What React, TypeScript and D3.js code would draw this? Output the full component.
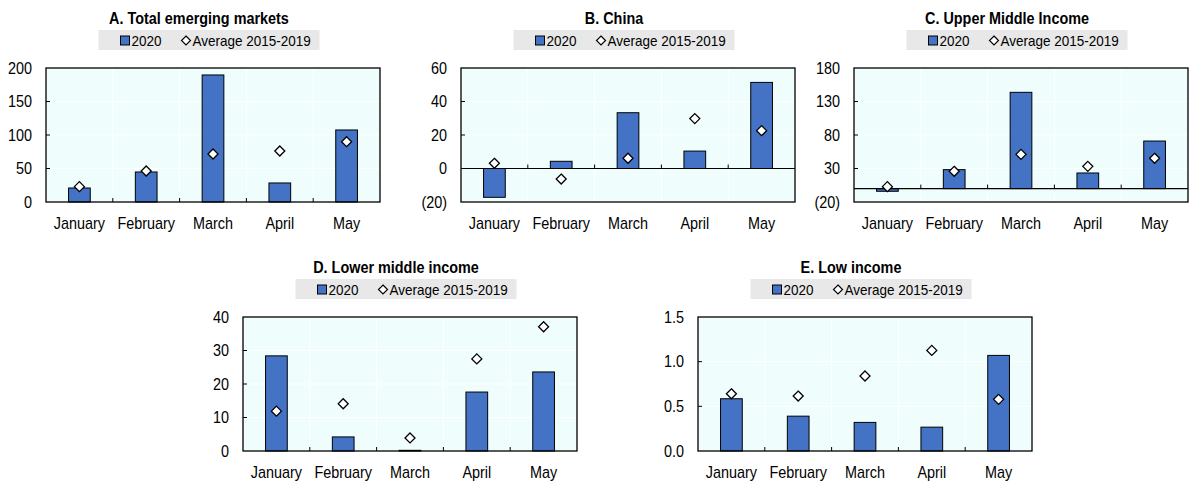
import * as d3 from 'd3';
import { useEffect } from 'react';
import type { ReactNode } from 'react';

const MONTHS = ['January', 'February', 'March', 'April', 'May'];

// A. Total emerging markets
const TOTAL_2020 = [20.9, 44.8, 189.6, 28.4, 107.5];
const TOTAL_AVG = [22.9, 46.3, 71.6, 76.1, 90.0];
const TOTAL_TICKS = [0, 50, 100, 150, 200];

// B. China
const CHINA_2020 = [-17.2, 4.3, 33.3, 10.4, 51.4];
const CHINA_AVG = [3.1, -6.3, 6.1, 29.8, 22.6];
const CHINA_TICKS = [-20, 0, 20, 40, 60];

// C. Upper middle income
const UMI_2020 = [-4, 28.3, 143.7, 23.3, 71];
const UMI_AVG = [2.9, 25.8, 51.1, 33.2, 45.2];
const UMI_TICKS = [-20, 30, 80, 130, 180];

// D. Lower middle income
const LMI_2020 = [28.4, 4.2, 0.2, 17.6, 23.6];
const LMI_AVG = [11.9, 14.1, 3.9, 27.5, 37.1];
const LMI_TICKS = [0, 10, 20, 30, 40];

// E. Low income
const LI_2020 = [0.585, 0.39, 0.32, 0.267, 1.07];
const LI_AVG = [0.64, 0.615, 0.84, 1.126, 0.578];
const LI_TICKS = [0, 0.5, 1.0, 1.5];

const LEGEND_BAR = '2020';
const LEGEND_DOT = 'Average 2015-2019';

const FONT = '"Liberation Sans", Arial, sans-serif';
const BAR_FILL = '#4472c4';
const PLOT_BG = '#effdfd';
const LEGEND_BG = '#e8e8e8';
// no narrow Arial installed, so squeeze the regular one
const SQUEEZE = 0.9;

const PLOT_W = 334;
const PLOT_H = 134;

function fmt(v: number, decimals: number) {
    const s = Math.abs(v).toFixed(decimals);
    return v < 0 ? `(${s})` : s;
}

function NarrowText({
    x,
    y,
    anchor = 'start',
    size,
    bold = false,
    children,
}: {
    x: number;
    y: number;
    anchor?: 'start' | 'middle' | 'end';
    size: number;
    bold?: boolean;
    children: ReactNode;
}) {
    return (
        <g transform={`translate(${x},${y}) scale(${SQUEEZE},1)`}>
            <text textAnchor={anchor} fontSize={size} fontWeight={bold ? 'bold' : 'normal'}>
                {children}
            </text>
        </g>
    );
}

type PanelProps = {
    title: string;
    bars: number[];
    avg: number[];
    ticks: number[];
    decimals: number;
    left: number;
    top: number;
};

function Panel({ title, bars, avg, ticks, decimals, left, top }: PanelProps) {
    const x = d3.scaleBand<string>().domain(MONTHS).range([0, PLOT_W]).padding(0);
    const y = d3
        .scaleLinear()
        .domain([ticks[0], ticks[ticks.length - 1]])
        .range([PLOT_H, 0]);
    const zeroY = y(0);
    const barW = x.bandwidth() * 0.325;
    const midX = PLOT_W / 2;
    const legendW = 221;
    const legendX = midX - 4 - legendW / 2;
    const center = (m: string) => (x(m) ?? 0) + x.bandwidth() / 2;

    return (
        <g transform={`translate(${left},${top})`}>
            <NarrowText x={midX - 14} y={-44} anchor="middle" size={16} bold>
                {title}
            </NarrowText>
            <g transform={`translate(${legendX},-38)`}>
                <rect width={legendW} height={20} fill={LEGEND_BG} />
                <rect x={22} y={6} width={9} height={9} fill={BAR_FILL} stroke="#000" strokeWidth={1} />
                <NarrowText x={33} y={15.5} size={15}>
                    {LEGEND_BAR}
                </NarrowText>
                <path d="M87.5,6L92,10.5L87.5,15L83,10.5Z" fill="#fff" stroke="#000" strokeWidth={1.2} />
                <NarrowText x={94} y={15.5} size={15}>
                    {LEGEND_DOT}
                </NarrowText>
            </g>

            <rect width={PLOT_W} height={PLOT_H} fill={PLOT_BG} />
            {ticks.slice(1, -1).map((t) => (
                <line key={`h${t}`} x1={0} x2={PLOT_W} y1={y(t)} y2={y(t)} stroke="#fff" strokeWidth={1} />
            ))}
            {MONTHS.slice(1).map((m) => (
                <line key={`v${m}`} x1={x(m)} x2={x(m)} y1={0} y2={PLOT_H} stroke="#fff" strokeWidth={1} />
            ))}

            {bars.map((v, i) => (
                <rect
                    key={`b${i}`}
                    x={center(MONTHS[i]) - barW / 2}
                    y={Math.min(y(v), zeroY)}
                    width={barW}
                    height={Math.abs(y(v) - zeroY)}
                    fill={BAR_FILL}
                    stroke="#000"
                    strokeWidth={1}
                />
            ))}

            {ticks[0] < 0 && (
                <line x1={0} x2={PLOT_W} y1={zeroY} y2={zeroY} stroke="#000" strokeWidth={1.2} />
            )}
            {MONTHS.slice(1).map((m) => (
                <line key={`t${m}`} x1={x(m)} x2={x(m)} y1={zeroY} y2={zeroY - 4} stroke="#000" strokeWidth={1} />
            ))}
            {ticks.slice(1, -1).map((t) => (
                <line key={`yt${t}`} x1={0} x2={4} y1={y(t)} y2={y(t)} stroke="#000" strokeWidth={1} />
            ))}

            {avg.map((v, i) => {
                const cx = center(MONTHS[i]);
                const cy = y(v);
                return (
                    <path
                        key={`d${i}`}
                        d={`M${cx},${cy - 5}L${cx + 5},${cy}L${cx},${cy + 5}L${cx - 5},${cy}Z`}
                        fill="#fff"
                        stroke="#000"
                        strokeWidth={1.3}
                    />
                );
            })}

            <rect width={PLOT_W} height={PLOT_H} fill="none" stroke="#000" strokeWidth={1.3} />

            {ticks.map((t) => (
                <NarrowText key={`yl${t}`} x={-14} y={y(t) + 5.8} anchor="end" size={16}>
                    {fmt(t, decimals)}
                </NarrowText>
            ))}
            {MONTHS.map((m) => (
                <NarrowText key={`xl${m}`} x={center(m)} y={PLOT_H + 26.5} anchor="middle" size={16}>
                    {m}
                </NarrowText>
            ))}
        </g>
    );
}

export default function App() {
    useEffect(() => {
        document.body.style.margin = '0';
    }, []);

    return (
        <svg width={1189} height={481} style={{ display: 'block', fontFamily: FONT }} fill="#000">
            <rect width={1189} height={481} fill="#fff" />
            <Panel title="A. Total emerging markets" bars={TOTAL_2020} avg={TOTAL_AVG} ticks={TOTAL_TICKS} decimals={0} left={46} top={68} />
            <Panel title="B. China" bars={CHINA_2020} avg={CHINA_AVG} ticks={CHINA_TICKS} decimals={0} left={461} top={68} />
            <Panel title="C. Upper Middle Income" bars={UMI_2020} avg={UMI_AVG} ticks={UMI_TICKS} decimals={0} left={854} top={68} />
            <Panel title="D. Lower middle income" bars={LMI_2020} avg={LMI_AVG} ticks={LMI_TICKS} decimals={0} left={243} top={317} />
            <Panel title="E. Low income" bars={LI_2020} avg={LI_AVG} ticks={LI_TICKS} decimals={1} left={698} top={317} />
        </svg>
    );
}
